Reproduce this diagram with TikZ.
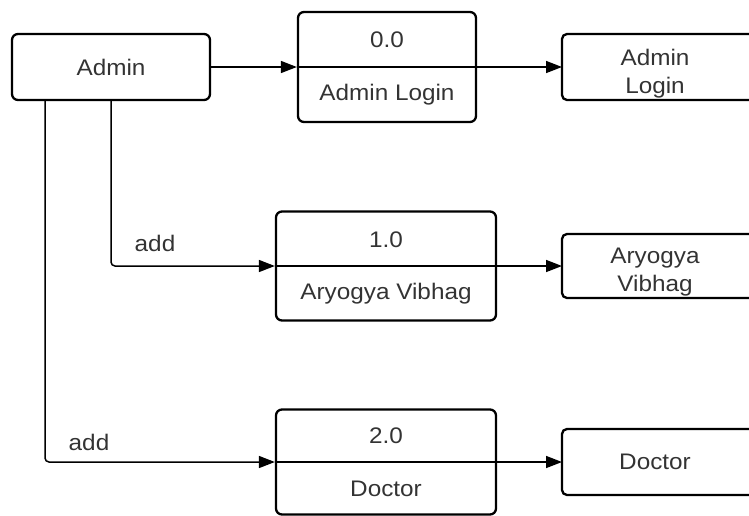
\documentclass[tikz,border=0pt]{standalone}
\usepackage{fontspec}
\setmainfont[FakeStretch=1.08]{Liberation Sans}
\usetikzlibrary{arrows.meta}
\begin{document}
\begin{tikzpicture}[x=1pt,y=-1pt,
  box/.style={draw, line width=2.3pt, rounded corners=6pt, inner sep=0pt},
  proc/.style={box, minimum width=178pt, minimum height=110pt},
  lbl/.style={font=\fontsize{22.5}{28}\selectfont, text=black!80, inner sep=0pt},
  flow/.style={line width=1.5pt, -{Triangle[length=16pt,width=12pt]}},
  storeshape/.style={minimum width=187pt, minimum height=66pt, inner sep=0pt, outer sep=0pt},
  storeln/.style={line width=2.3pt, rounded corners=5pt},
  divider/.style={line width=2pt}]
\useasboundingbox (0,0) rectangle (749,515);

% external entity
\node[box, minimum width=198pt, minimum height=66pt, lbl] (admin) at (111,67) {Admin};

% processes
\node[proc] (p0) at (387,67) {};
\draw[divider] (p0.west) -- (p0.east);
\node[lbl] (p0a) at (387,40) {0.0};
\node[lbl] (p0b) at (387,95) {Admin Login};

\node[proc, minimum width=220pt, minimum height=109pt] (p1) at (386,266) {};
\draw[divider] (p1.west) -- (p1.east);
\node[lbl] (p1a) at (386,240) {1.0};
\node[lbl] (p1b) at (386,294) {Aryogya Vibhag};

\node[proc, minimum width=220pt, minimum height=105pt] (p2) at (386,462) {};
\draw[divider] (p2.west) -- (p2.east);
\node[lbl] (p2a) at (386,436) {2.0};
\node[lbl] (p2b) at (386,489) {Doctor};

% data stores (open on the right)
\node[storeshape] (s0) at (655.5,67) {};
\draw[storeln] ([xshift=6pt]s0.north east) -- (s0.north west) -- (s0.south west) -- ([xshift=6pt]s0.south east);
\node[lbl, align=center] (s0t) at (655,74) {Admin\\Login};

\node[storeshape, minimum height=64pt] (s1) at (655.5,266) {};
\draw[storeln] ([xshift=6pt]s1.north east) -- (s1.north west) -- (s1.south west) -- ([xshift=6pt]s1.south east);
\node[lbl, align=center] (s1t) at (655,272) {Aryogya\\Vibhag};

\node[storeshape] (s2) at (655.5,462) {};
\draw[storeln] ([xshift=6pt]s2.north east) -- (s2.north west) -- (s2.south west) -- ([xshift=6pt]s2.south east);
\node[lbl] (s2t) at (655,462) {Doctor};

% flows
\draw[flow] (admin) -- (p0);
\draw[flow] (p0) -- (s0);
\draw[flow] (p1.east) -- (s1.west);
\draw[flow] (p2.east) -- (s2.west);
\draw[flow, rounded corners=4pt] (admin.south) |- (p1.west);
\draw[flow, rounded corners=4pt] ([xshift=-66pt]admin.south) |- (p2.west);

% labels
\node[lbl] (add1) at (155,243) {add};
\node[lbl] (add2) at (89,442) {add};
\end{tikzpicture}
\end{document}
